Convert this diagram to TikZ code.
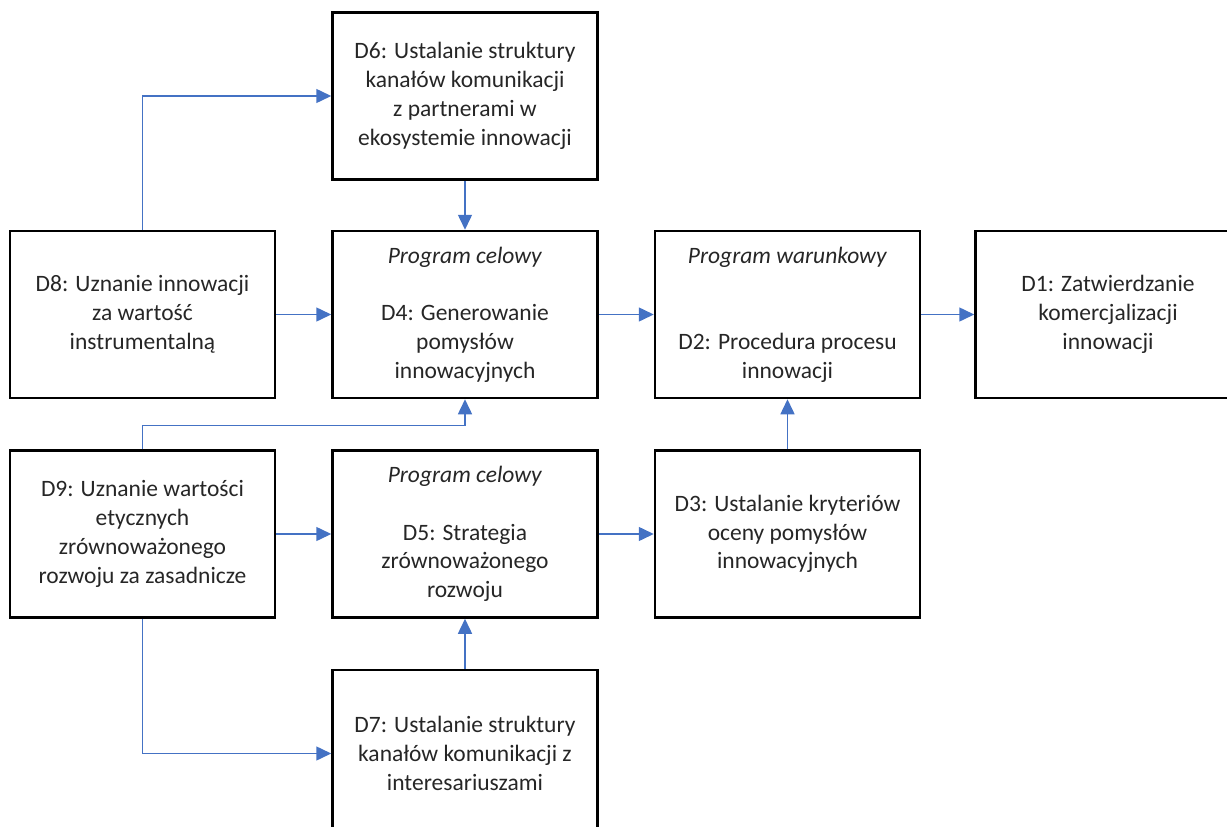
\documentclass[tikz,border=0pt]{standalone}
\usepackage{fontspec}
\setmainfont{Carlito}
\usetikzlibrary{arrows.meta,positioning}
\definecolor{linkblue}{HTML}{4472C4}

\begin{document}
\begin{tikzpicture}[x=1pt, y=1pt,
    node distance=50pt and 55pt,
    box/.style={draw=black, line width=2.5pt, minimum width=265pt,
      minimum height=167pt, align=center, text=black!85,
      font=\fontsize{23.5}{28.8}\selectfont},
    link/.style={-{Triangle[length=15pt,width=14pt]}, color=linkblue, line width=1.5pt}]
    \useasboundingbox (0,0) rectangle (1227,-827);
    \clip (0,0) rectangle (1227,-827);
    \node [box] at (465,-314.5)  (D4) {\textit{Program celowy}\\[28.8pt]D4: Generowanie\\pomysłów\\innowacyjnych};
    \node [box] [left=of D4]     (D8) {D8: Uznanie innowacji\\za wartość\\instrumentalną};
    \node [box] [right=of D4]    (D2) {\textit{Program warunkowy}\\[57.6pt]D2: Procedura procesu\\innowacji};
    \node [box] [right=53pt of D2] (D1) {D1: Zatwierdzanie\\komercjalizacji\\innowacji};
    \node [box] [above=49pt of D4] (D6) {D6: Ustalanie struktury\\kanałów komunikacji\\z partnerami w\\ekosystemie innowacji};
    \node [box] [below=of D4]    (D5) {\textit{Program celowy}\\[28.8pt]D5: Strategia\\zrównoważonego\\rozwoju};
    \node [box] [left=of D5]     (D9) {D9: Uznanie wartości\\etycznych\\zrównoważonego\\rozwoju za zasadnicze};
    \node [box] [right=of D5]    (D3) {D3: Ustalanie kryteriów\\oceny pomysłów\\innowacyjnych};
    \node [box] [below=of D5]    (D7) {D7: Ustalanie struktury\\kanałów komunikacji z\\interesariuszami};
    \coordinate [above=24pt of D9.north] (D9up);
    \path[link] (D8) edge (D4)
                (D6) edge (D4)
                (D4) edge (D2)
                (D2) edge (D1)
                (D9) edge (D5)
                (D5) edge (D3)
                (D7) edge (D5)
                (D3) edge (D2);
    \draw[link] (D8.north) |- (D6.west);
    \draw[link] (D9.south) |- (D7.west);
    \draw[link] (D9.north) -- (D9up) -| (D4.south);
  \end{tikzpicture}
\end{document}
